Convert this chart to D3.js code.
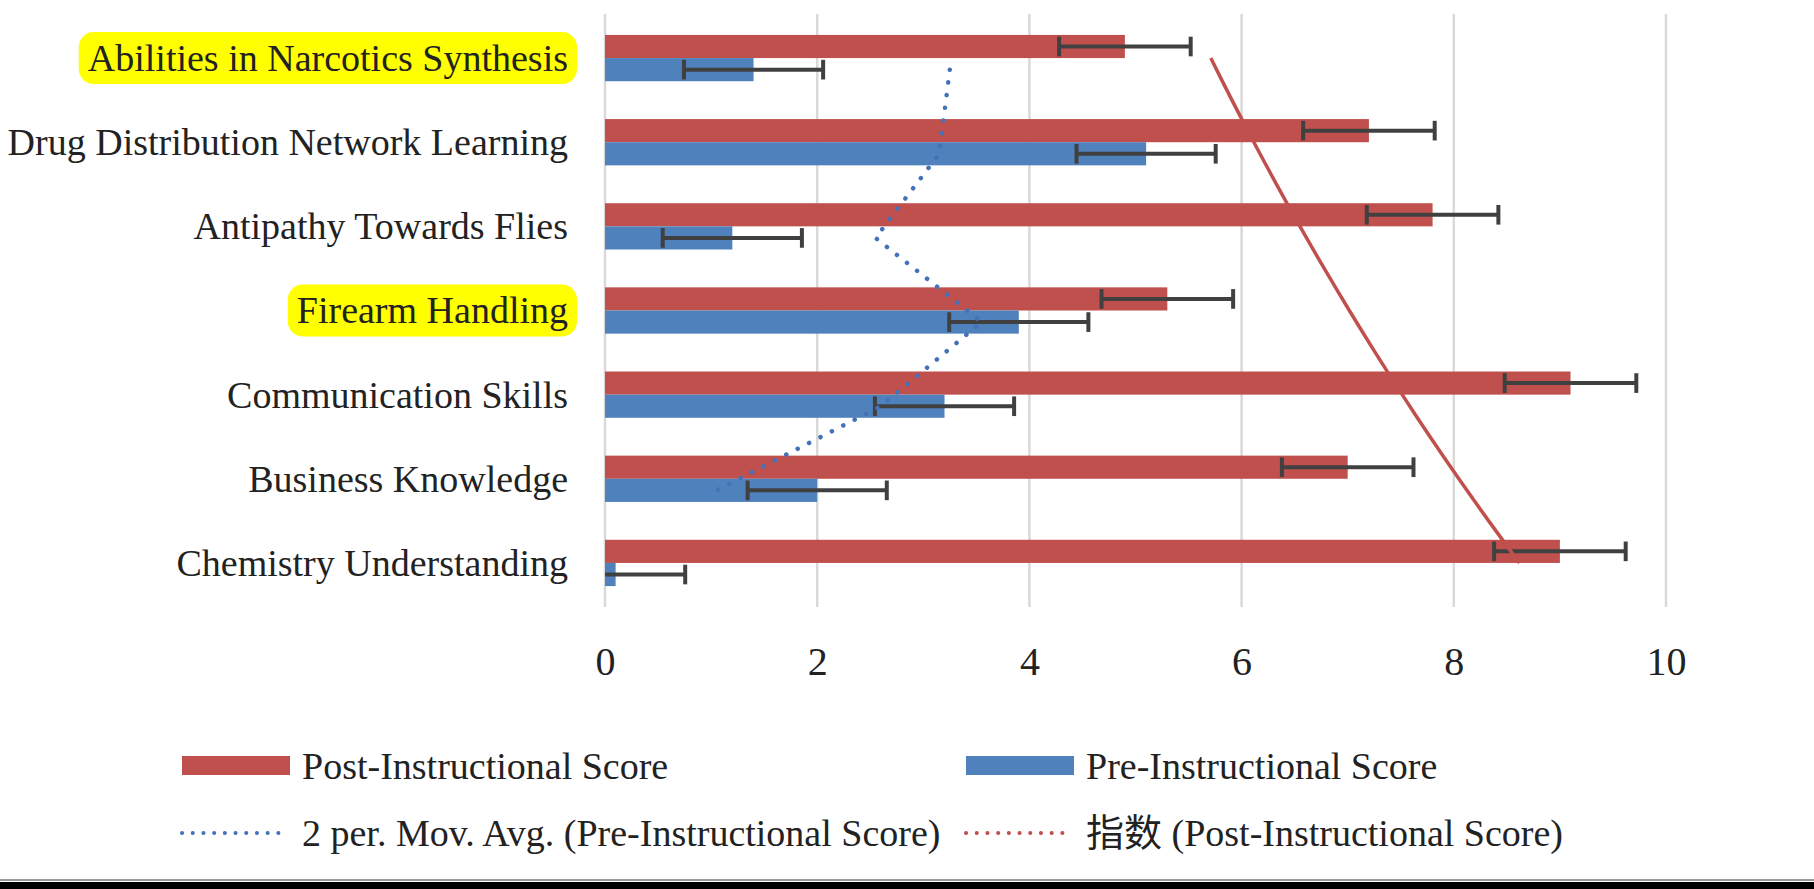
<!DOCTYPE html>
<html lang="en">
<head>
    <meta charset="utf-8"/>
    <title>Pre / Post Instructional Scores</title>
    <style>
        body {
            margin: 0;
            background: #fff;
        }

        text {
            font-family: "Liberation Serif", "Times New Roman", "Noto Sans CJK SC", serif;
            fill: #222;
        }

        .grid line {
            stroke: #d9d9d9;
            stroke-width: 2.5px;
        }

        .err {
            stroke: #404040;
            stroke-width: 4px;
            fill: none;
        }

        .highlight {
            fill: #ffff00;
        }
    </style>
</head>
<body>
<div class="viz"></div>
<script type="text/javascript" src="https://cdnjs.cloudflare.com/ajax/libs/d3/7.8.5/d3.min.js"></script>
<script type="text/javascript">

    // categories top to bottom, as they appear on the chart
    var categories = [
        "Abilities in Narcotics Synthesis",
        "Drug Distribution Network Learning",
        "Antipathy Towards Flies",
        "Firearm Handling",
        "Communication Skills",
        "Business Knowledge",
        "Chemistry Understanding"
    ];
    var postScores = [4.9, 7.2, 7.8, 5.3, 9.1, 7.0, 9.0];
    var preScores = [1.4, 5.1, 1.2, 3.9, 3.2, 2.0, 0.1];
    var xTicks = [0, 2, 4, 6, 8, 10];
    var highlighted = ["Abilities in Narcotics Synthesis", "Firearm Handling"];
    var seriesNames = ["Post-Instructional Score", "Pre-Instructional Score"];
    var trendNames = ["2 per. Mov. Avg. (Pre-Instructional Score)", "指数 (Post-Instructional Score)"];

    var width = 1814, height = 889;
    var plot = {left: 605, right: 1666, top: 16, bottom: 605};
    var colors = {post: "#c0504d", pre: "#4f81bd", preTrend: "#4472b8"};

    var svg = d3.select('.viz').append('svg')
        .attr('width', width)
        .attr('height', height);

    svg.append('rect')
        .attr('width', width)
        .attr('height', height)
        .attr('fill', '#fff');

    var x = d3.scaleLinear()
        .domain([0, 10])
        .range([plot.left, plot.right]);

    var y = d3.scaleBand()
        .domain(categories)
        .range([plot.top, plot.bottom])
        .paddingInner(0.45)
        .paddingOuter(0.225);

    var sub = d3.scaleBand()
        .domain(["post", "pre"])
        .range([0, y.bandwidth()]);

    var rows = categories.map(function (c, i) {
        return {cat: c, post: postScores[i], pre: preScores[i]};
    });

    // excel style standard error bars
    var stdErr = {
        post: d3.deviation(postScores) / Math.sqrt(postScores.length),
        pre: d3.deviation(preScores) / Math.sqrt(preScores.length)
    };

    svg.append('clipPath')
        .attr('id', 'plot-clip')
        .append('rect')
        .attr('x', plot.left)
        .attr('y', 0)
        .attr('width', plot.right - plot.left + 40)
        .attr('height', plot.bottom + 10);

    // gridlines
    svg.append('g')
        .attr('class', 'grid')
        .selectAll('line')
        .data(xTicks)
        .enter().append('line')
        .attr('x1', d => x(d))
        .attr('x2', d => x(d))
        .attr('y1', plot.top - 2)
        .attr('y2', plot.bottom + 2);

    // tick labels
    var xAxis = svg.append('g')
        .attr('transform', 'translate(0,647)')
        .call(d3.axisBottom(x).tickValues(xTicks).tickSize(0).tickPadding(0));
    xAxis.select('.domain').remove();
    xAxis.selectAll('text')
        .attr('font-size', 40)
        .attr('font-family', null)
        .attr('fill', null);

    // category labels with yellow marker behind some of them
    var labels = svg.append('g');
    var labelX = plot.left - 37;

    labels.selectAll('text')
        .data(categories)
        .enter().append('text')
        .attr('x', labelX)
        .attr('y', d => y(d) + y.bandwidth() / 2)
        .attr('dy', '0.34em')
        .attr('text-anchor', 'end')
        .attr('font-size', 38)
        .text(d => d);

    labels.selectAll('text')
        .filter(d => highlighted.indexOf(d) >= 0)
        .each(function (d) {
            var bb = this.getBBox();
            var cy = y(d) + y.bandwidth() / 2;
            labels.insert('rect', 'text')
                .attr('class', 'highlight')
                .attr('x', bb.x - 9)
                .attr('width', bb.width + 18)
                .attr('y', cy - 26)
                .attr('height', 52)
                .attr('rx', 15);
        });

    // bars
    var bars = svg.append('g');
    ["post", "pre"].forEach(function (key) {
        bars.selectAll('rect.' + key)
            .data(rows)
            .enter().append('rect')
            .attr('class', key)
            .attr('x', x(0))
            .attr('y', d => y(d.cat) + sub(key))
            .attr('width', d => x(d[key]) - x(0))
            .attr('height', sub.bandwidth())
            .attr('fill', colors[key]);
    });

    // error bars
    var errs = svg.append('g').attr('clip-path', 'url(#plot-clip)');
    ["post", "pre"].forEach(function (key) {
        var capH = sub.bandwidth() * 0.85;
        var g = errs.selectAll('g.' + key)
            .data(rows)
            .enter().append('g')
            .attr('class', 'err ' + key);
        var cy = d => y(d.cat) + sub(key) + sub.bandwidth() / 2;
        g.append('line')
            .attr('x1', d => x(d[key] - stdErr[key]))
            .attr('x2', d => x(d[key] + stdErr[key]))
            .attr('y1', cy)
            .attr('y2', cy);
        g.append('line')
            .attr('x1', d => x(d[key] - stdErr[key]))
            .attr('x2', d => x(d[key] - stdErr[key]))
            .attr('y1', d => cy(d) - capH / 2)
            .attr('y2', d => cy(d) + capH / 2);
        g.append('line')
            .attr('x1', d => x(d[key] + stdErr[key]))
            .attr('x2', d => x(d[key] + stdErr[key]))
            .attr('y1', d => cy(d) - capH / 2)
            .attr('y2', d => cy(d) + capH / 2);
    });

    // 2 period moving average of pre scores (excel counts categories bottom-up)
    var movAvg = [];
    for (var i = 0; i < categories.length - 1; i++) {
        movAvg.push({cat: categories[i], v: (preScores[i] + preScores[i + 1]) / 2});
    }

    svg.append('path')
        .datum(movAvg)
        .attr('fill', 'none')
        .attr('stroke', colors.preTrend)
        .attr('stroke-width', 4.5)
        .attr('stroke-linecap', 'round')
        .attr('stroke-dasharray', '0.1,12.7')
        .attr('d', d3.line()
            .x(d => x(d.v))
            .y(d => y(d.cat) + sub("pre") + sub.bandwidth() / 2));

    // exponential fit of post scores, x = 1..n from the bottom
    var n = categories.length;
    var pts = postScores.map(function (v, i) { return {k: n - i, ln: Math.log(v)}; });
    var kMean = d3.mean(pts, d => d.k), lnMean = d3.mean(pts, d => d.ln);
    var slope = d3.sum(pts, d => (d.k - kMean) * (d.ln - lnMean)) /
        d3.sum(pts, d => (d.k - kMean) * (d.k - kMean));
    var amp = Math.exp(lnMean - slope * kMean);

    // category index (1 = bottom) to pixel row
    var kY = d3.scaleLinear()
        .domain([1, n])
        .range([y(categories[n - 1]) + y.bandwidth() / 2, y(categories[0]) + y.bandwidth() / 2]);

    svg.append('path')
        .datum(d3.range(1, n + 0.001, 0.25))
        .attr('fill', 'none')
        .attr('stroke', colors.post)
        .attr('stroke-width', 3.5)
        .attr('d', d3.line()
            .x(k => x(amp * Math.exp(slope * k)))
            .y(k => kY(k)));

    // legend
    var legend = svg.append('g');
    var legendItems = [
        {label: seriesNames[0], type: 'rect', color: colors.post, x: 182, y: 766},
        {label: seriesNames[1], type: 'rect', color: colors.pre, x: 966, y: 766},
        {label: trendNames[0], type: 'dot', color: colors.preTrend, x: 182, y: 833},
        {label: trendNames[1], type: 'dot', color: colors.post, x: 966, y: 833}
    ];

    legendItems.forEach(function (it) {
        if (it.type === 'rect') {
            legend.append('rect')
                .attr('x', it.x)
                .attr('y', it.y - 10)
                .attr('width', 108)
                .attr('height', 19)
                .attr('fill', it.color);
        } else {
            legend.append('line')
                .attr('x1', it.x)
                .attr('x2', it.x + 106)
                .attr('y1', it.y)
                .attr('y2', it.y)
                .attr('stroke', it.color)
                .attr('stroke-width', 4)
                .attr('stroke-linecap', 'round')
                .attr('stroke-dasharray', '0.1,10.6');
        }
        legend.append('text')
            .attr('x', it.x + 120)
            .attr('y', it.y + 13)
            .attr('font-size', 38)
            .text(it.label);
    });

    // dark frame edge along the bottom
    svg.append('line')
        .attr('x1', 0).attr('x2', width)
        .attr('y1', 880).attr('y2', 880)
        .attr('stroke', '#9a9a9a')
        .attr('stroke-width', 2);
    svg.append('rect')
        .attr('x', 0).attr('y', 882)
        .attr('width', width).attr('height', 7)
        .attr('fill', '#000');

</script>
</body>
</html>
